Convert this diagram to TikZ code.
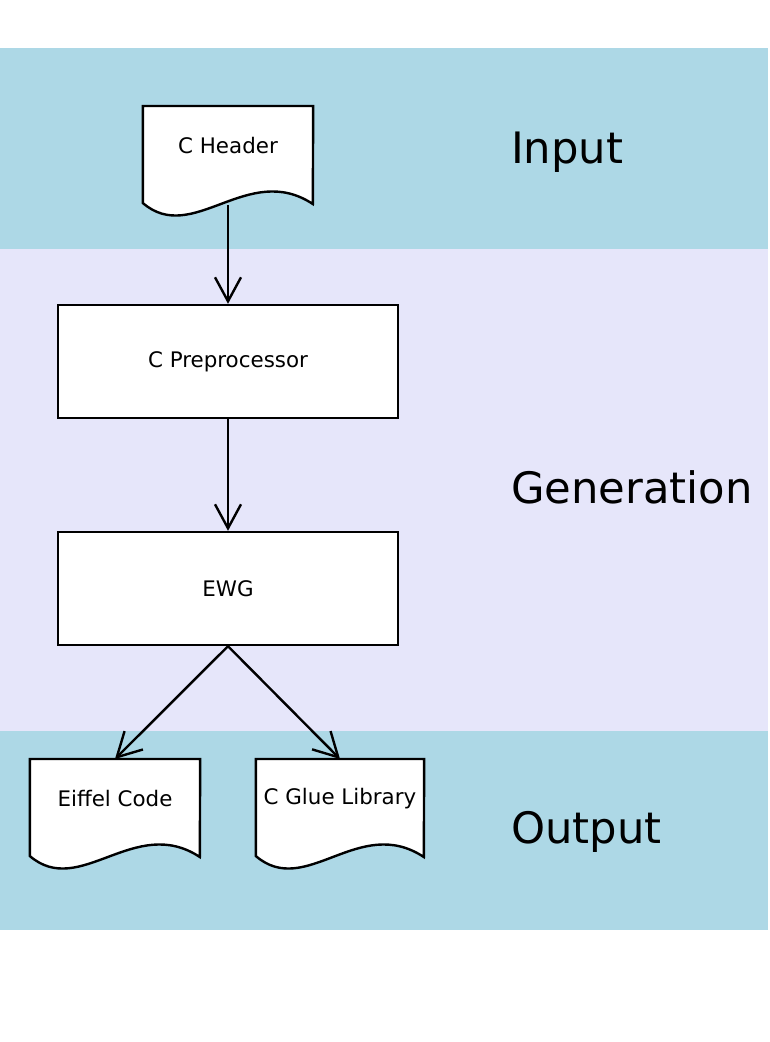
\documentclass[tikz,border=0pt]{standalone}
\usepackage{fontspec}
\setmainfont{DejaVu Sans}
\usetikzlibrary{arrows.meta}
\definecolor{bandblue}{RGB}{173,216,230}
\definecolor{bandlav}{RGB}{230,230,250}
\tikzset{
  flow/.style={line width=2.4pt, -{Straight Barb[length=24pt,width=26pt,line width=2.4pt]}},
  box/.style={draw, fill=white, line width=2.4pt, minimum width=340pt, minimum height=113pt,
    font=\fontsize{21.4}{25}\selectfont},
  docu/.style={anchor=north, inner sep=0pt, minimum width=170pt, minimum height=78pt},
  doctext/.style={inner sep=0pt, font=\fontsize{21.4}{25}\selectfont},
  docline/.style={draw, fill=white, line width=2.4pt, line join=miter},
  band/.style={anchor=base west, inner sep=0pt, font=\fontsize{43.3}{50}\selectfont}
}
\newcommand{\docoutline}[2]{% node, width
  \draw[docline] (#1.north west) -- ++(0,97)
    .. controls +(50,43) and +(-65,-43) .. ++(#2,1) -- (#1.north east) -- cycle;}
\begin{document}
\begin{tikzpicture}[x=1pt,y=-1pt]
\useasboundingbox (0,0) rectangle (769,1042);
% bands
\fill[bandblue] (0,48) rectangle (768,249);
\fill[bandlav] (0,249) rectangle (768,731);
\fill[bandblue] (0,731) rectangle (768,930);
\node[band] (input) at (511,163) {Input};
\node[band] (gen) at (511,503) {Generation};
\node[band] (output) at (511,843) {Output};
% documents and steps
\node[docu] (hdr) at (228,106) {};
\docoutline{hdr}{170}
\node[doctext] at (hdr.center) (hdrtext) {C Header};
\node[box] (prep) at (228,361.5) {C Preprocessor};
\node[box] (ewg) at (228,588.5) {EWG};
\node[docu] (eif) at (115,759) {};
\docoutline{eif}{170}
\node[doctext] at (eif.center) (eiftext) {Eiffel Code};
\node[docu, minimum width=168pt] (glue) at (340,759) {};
\docoutline{glue}{168}
\node[doctext] at (glue.center) (gluetext) {C Glue Library};
% connectors
\draw[flow] ([yshift=-21pt]hdr.south) -- (prep.north);
\draw[flow] (prep.south) -- (ewg.north);
\draw[flow] (ewg.south) -- (eif.north);
\draw[flow] (ewg.south) -- (glue.north);
\end{tikzpicture}
\end{document}
